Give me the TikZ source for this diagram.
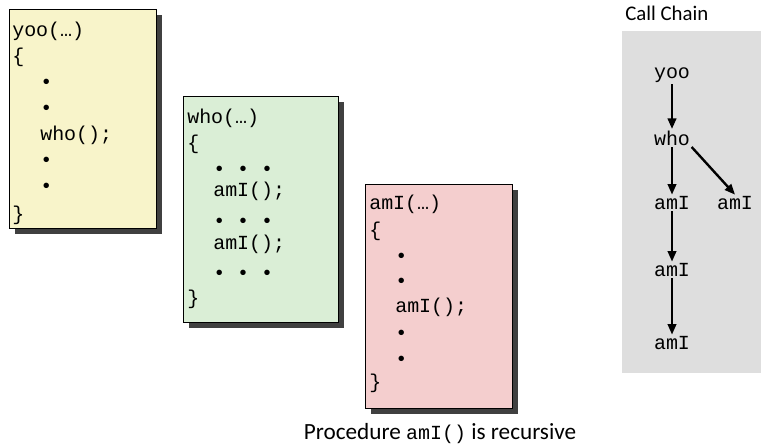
\documentclass[tikz,border=0pt]{standalone}
\usepackage{fontspec}
\setmainfont{Carlito}
\newfontfamily\codefont{Liberation Mono}
\usetikzlibrary{shadows,arrows.meta}

\definecolor{yooyellow}{RGB}{248,244,202}
\definecolor{whogreen}{RGB}{218,238,214}
\definecolor{amipink}{RGB}{244,206,206}
\definecolor{chaingrey}{RGB}{222,222,222}

\tikzset{
	codebox/.style={draw=black, line width=0.6pt, drop shadow={shadow xshift=4.5pt, shadow yshift=-4pt, fill=black!75, opacity=1}},
	codeline/.style={anchor=base west, inner sep=0pt, font=\codefont\fontsize{14.2}{16}\selectfont},
	callnode/.style={inner sep=1pt, font=\codefont\fontsize{14.2}{16}\selectfont},
	callarrow/.style={-{Triangle[length=7.5pt,width=6pt]}, line width=1.7pt}
}

\begin{document}
\begin{tikzpicture}[x=0.025cm, y=-0.025cm]
	\useasboundingbox (0,0) rectangle (761,447);

	% the three procedures
	\draw[codebox, fill=yooyellow] (9,9) rectangle (156,228);
	\draw[codebox, fill=whogreen] (183,96) rectangle (338,322);
	\draw[codebox, fill=amipink] (365,184) rectangle (512,408);

	% yoo
	\foreach \yy/\xx/\txt in {36/12/yoo(…), 62/12/\{, 88/40/•, 114/40/•, 140/40/who();, 166/40/•, 192/40/•, 220/12/\}}
		\node[codeline] (yoo\yy) at (\xx,\yy) {\txt};

	% who
	\foreach \yy/\xx/\txt in {123/187/who(…), 149/187/\{, 175/213/• • •, 196/213/amI();, 227/213/• • •, 249/213/amI();, 279/213/• • •, 304/187/\}}
		\node[codeline] (who\yy) at (\xx,\yy) {\txt};

	% amI
	\foreach \yy/\xx/\txt in {209/369/amI(…), 236/369/\{, 262/395/•, 287/395/•, 312/395/amI();, 339/395/•, 365/395/•, 388/369/\}}
		\node[codeline] (ami\yy) at (\xx,\yy) {\txt};

	\node[font=\fontsize{16.5}{18}\selectfont] (caption) at (440,434) {Procedure {\codefont\fontsize{14.2}{16}\selectfont amI()} is recursive};

	% call chain
	\fill[chaingrey] (622,31) rectangle (761,373);
	\node[anchor=west, inner sep=0pt, font=\fontsize{14.8}{16}\selectfont] (chaintitle) at (625,13) {Call Chain};

	\node[callnode] (yoo) at (672,75) {yoo};
	\node[callnode] (who) at (672,138) {who};
	\node[callnode] (amiA) at (672,203) {amI};
	\node[callnode] (amiB) at (735,203) {amI};
	\node[callnode] (amiC) at (672,270) {amI};
	\node[callnode] (amiD) at (672,343) {amI};

	\draw[callarrow] (yoo) -- (who);
	\draw[callarrow] (who) -- (amiA);
	\draw[callarrow] (who.south east) -- (amiB.north);
	\draw[callarrow] (amiA) -- (amiC);
	\draw[callarrow] (amiC) -- (amiD);

\end{tikzpicture}
\end{document}
